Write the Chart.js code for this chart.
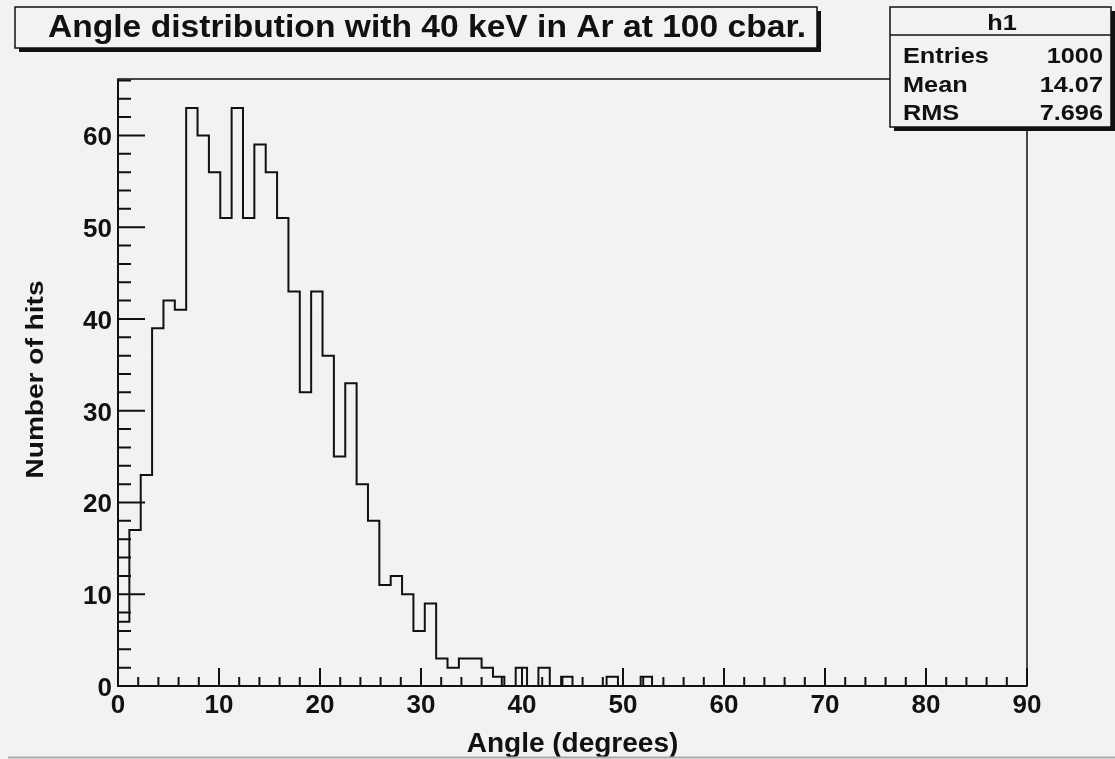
<!DOCTYPE html>
<html>
<head>
<meta charset="utf-8">
<script src="https://cdn.jsdelivr.net/npm/chart.js@4"></script>
<style>
  body { margin: 0; background: #f2f2f2; }
  #wrap { width: 1115px; height: 759px; position: relative; }
</style>
</head>
<body>
<div id="wrap"><canvas id="hist"></canvas></div>
<script>
// histogram h1, 80 bins from 0 to 90 degrees
const xMin = 0;
const xMax = 90;
const hitCounts = [
  7, 17, 23, 39, 42, 41, 63, 60, 56, 51,
  63, 51, 59, 56, 51, 43, 32, 43, 36, 25,
  33, 22, 18, 11, 12, 10, 6, 9, 3, 2,
  3, 3, 2, 1, 0, 2, 0, 2, 0, 1,
  0, 0, 0, 1, 0, 0, 1, 0, 0, 0,
  0, 0, 0, 0, 0, 0, 0, 0, 0, 0,
  0, 0, 0, 0, 0, 0, 0, 0, 0, 0,
  0, 0, 0, 0, 0, 0, 0, 0, 0, 0
];
const xTickLabels = [0, 10, 20, 30, 40, 50, 60, 70, 80, 90];
const yTickLabels = [0, 10, 20, 30, 40, 50, 60];
const statNames = ["Entries", "Mean", "RMS"];
const statValues = ["1000", "14.07", "7.696"];
const titleText = "Angle distribution with 40 keV in Ar at 100 cbar.";

const binWidth = (xMax - xMin) / hitCounts.length;
const yMax = 1.05 * Math.max(...hitCounts);

// step outline points at the left edge of every bin
const outline = [{ x: xMin, y: 0 }];
hitCounts.forEach((c, i) => outline.push({ x: xMin + i * binWidth, y: c }));
outline.push({ x: xMax, y: hitCounts[hitCounts.length - 1] });
outline.push({ x: xMax, y: 0 });

const ink = "#111";

function drawText(ctx, text, x, y, size, align, sx, rot) {
  ctx.save();
  ctx.translate(x, y);
  if (rot) ctx.rotate(rot);
  ctx.scale(sx || 1, 1);
  ctx.font = "bold " + size + "px 'Liberation Sans', Arial, sans-serif";
  ctx.textAlign = align;
  ctx.textBaseline = "alphabetic";
  ctx.fillStyle = ink;
  ctx.fillText(text, 0, 0);
  ctx.restore();
}

function box(ctx, x, y, w, h) {
  ctx.fillStyle = ink;
  ctx.fillRect(x + 4, y + 4, w, h);          // shadow
  ctx.fillStyle = "#f2f2f2";
  ctx.fillRect(x, y, w, h);
  ctx.strokeStyle = ink;
  ctx.lineWidth = 1.5;
  ctx.strokeRect(x, y, w, h);
}

const rootFrame = {
  id: "rootFrame",
  afterDraw(chart) {
    const ctx = chart.ctx;
    const xs = chart.scales.x, ys = chart.scales.y;
    const a = chart.chartArea;
    ctx.save();
    ctx.strokeStyle = ink;

    // frame
    ctx.lineWidth = 1.5;
    ctx.strokeRect(a.left, a.top, a.right - a.left, a.bottom - a.top);

    // axes
    ctx.lineWidth = 2;
    ctx.beginPath();
    ctx.moveTo(a.left, a.top);
    ctx.lineTo(a.left, a.bottom);
    ctx.lineTo(a.right, a.bottom);
    ctx.stroke();

    // x ticks, inward
    ctx.beginPath();
    for (let v = xMin; v <= xMax + 1e-9; v += 2) {
      const px = xs.getPixelForValue(v);
      const len = v % 10 === 0 ? 18 : 9;
      ctx.moveTo(px, a.bottom);
      ctx.lineTo(px, a.bottom - len);
    }
    // y ticks, inward
    for (let v = 0; v <= yMax; v += 2) {
      const py = ys.getPixelForValue(v);
      const len = v % 10 === 0 ? 27 : 13;
      ctx.moveTo(a.left, py);
      ctx.lineTo(a.left + len, py);
    }
    ctx.stroke();

    xTickLabels.forEach(v => drawText(ctx, String(v), xs.getPixelForValue(v), a.bottom + 27, 26, "center"));
    yTickLabels.forEach(v => drawText(ctx, String(v), a.left - 6, ys.getPixelForValue(v) + 10, 26, "right"));

    drawText(ctx, "Angle (degrees)", (a.left + a.right) / 2, 752, 28, "center");
    drawText(ctx, "Number of hits", 43, (a.top + a.bottom) / 2 - 3, 23, "center", 1.22, -Math.PI / 2);

    // title box
    box(ctx, 15, 7, 802, 41);
    drawText(ctx, titleText, 427, 37, 32, "center", 1.05);

    // stats box
    box(ctx, 890, 7, 221, 120);
    ctx.lineWidth = 1.5;
    ctx.beginPath();
    ctx.moveTo(890, 35);
    ctx.lineTo(1111, 35);
    ctx.stroke();
    drawText(ctx, "h1", 1002, 30, 22, "center", 1.15);
    statNames.forEach((n, i) => {
      const by = 63 + i * 28.5;
      drawText(ctx, n, 903, by, 22, "left", 1.15);
      drawText(ctx, statValues[i], 1103, by, 22, "right", 1.15);
    });

    // bottom canvas edge line
    ctx.strokeStyle = "#aaa";
    ctx.lineWidth = 2;
    ctx.beginPath();
    ctx.moveTo(8, 757.5);
    ctx.lineTo(1115, 757.5);
    ctx.stroke();
    ctx.restore();
  }
};

new Chart(document.getElementById("hist"), {
  type: "line",
  data: {
    datasets: [{
      label: "h1",
      data: outline,
      stepped: "before",
      borderColor: ink,
      borderWidth: 2,
      pointRadius: 0,
      fill: false
    }]
  },
  options: {
    responsive: true,
    maintainAspectRatio: false,
    animation: false,
    layout: { padding: { left: 118, right: 88, top: 79, bottom: 73 } },
    scales: {
      x: { type: "linear", min: xMin, max: xMax, display: false },
      y: { min: 0, max: yMax, display: false }
    },
    plugins: { legend: { display: false }, tooltip: { enabled: false } }
  },
  plugins: [rootFrame]
});
</script>
</body>
</html>
